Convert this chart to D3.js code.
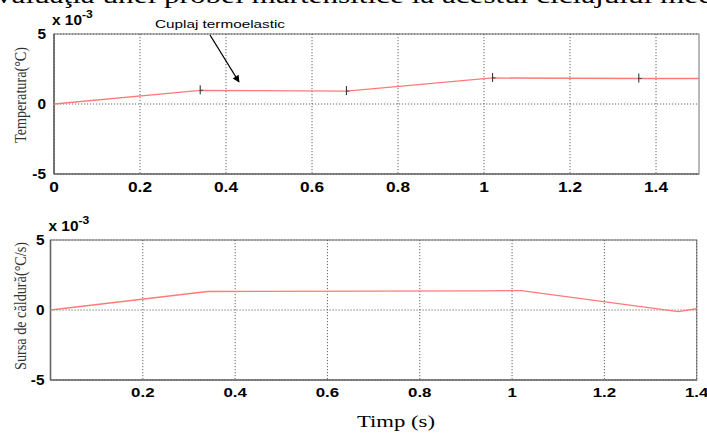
<!DOCTYPE html>
<html><head><meta charset="utf-8">
<script src="https://cdn.jsdelivr.net/npm/d3@7"></script>
<style>
html,body{margin:0;padding:0;background:#fff;overflow:hidden}
svg{display:block}
</style></head>
<body>
<svg id="c" width="707" height="434"></svg>
<script>
// ---- data ----
const topTime   = [0, 0.34, 0.68, 1.02, 1.36, 1.5];
const topTemp   = [0, 0.98, 0.92, 1.86, 1.82, 1.82];      // x 10^-3 °C
const markerTime = [0.34, 0.68, 1.02, 1.36];
const botTime   = [0, 0.34, 0.94, 1.02, 1.36, 1.4];
const botHeat   = [0, 1.32, 1.36, 1.39, -0.12, 0.09];     // x 10^-3 °C/s
const yTicks    = [-5, 0, 5];
const topXTicks = [0, 0.2, 0.4, 0.6, 0.8, 1, 1.2, 1.4];
const botXTicks = [0.2, 0.4, 0.6, 0.8, 1, 1.2, 1.4];
const gridTop   = [0, 0.2, 0.4, 0.6, 0.8, 1, 1.2, 1.4];
const gridBot   = [0.2, 0.4, 0.6, 0.8, 1, 1.2, 1.4];

const svg = d3.select("#c");
const lineColor = "#ff7a7a";
const gridColor = "#555";
const boldFont = "'Liberation Sans', Arial, sans-serif";
const serif = "'Liberation Serif', 'Times New Roman', serif";

// clipped header text from document
svg.append("text").attr("x", -4).attr("y", 3)
  .attr("font-family", serif).attr("font-size", 24)
  .attr("textLength", 716).attr("lengthAdjust", "spacingAndGlyphs")
  .text("valuaţia unei probei martensitice la acestui ciclajului mec");

function panel(opt) {
  const x = d3.scaleLinear().domain(opt.xDomain).range([opt.left, opt.right]);
  const y = d3.scaleLinear().domain([-5, 5]).range([opt.bottom, opt.top]);
  const g = svg.append("g");

  // frame
  g.append("rect").attr("x", opt.left).attr("y", opt.top)
    .attr("width", opt.right - opt.left).attr("height", opt.bottom - opt.top)
    .attr("fill", "none").attr("stroke", "#8a8a8a").attr("stroke-width", 1.2);
  g.append("line").attr("x1", opt.left).attr("x2", opt.left).attr("y1", opt.top).attr("y2", opt.bottom)
    .attr("stroke", "#666").attr("stroke-width", 1.5);
  g.append("line").attr("x1", opt.left).attr("x2", opt.right).attr("y1", opt.bottom).attr("y2", opt.bottom)
    .attr("stroke", "#777").attr("stroke-width", 1.5);

  // grid
  g.selectAll(".vg").data(opt.grid).join("line")
    .attr("x1", d => x(d)).attr("x2", d => x(d)).attr("y1", opt.top).attr("y2", opt.bottom)
    .attr("stroke", gridColor).attr("stroke-width", 0.9).attr("stroke-dasharray", "1.2,1.8");
  g.selectAll(".hg").data(yTicks).join("line")
    .attr("x1", opt.left).attr("x2", opt.right).attr("y1", d => y(d)).attr("y2", d => y(d))
    .attr("stroke", gridColor).attr("stroke-width", 0.9).attr("stroke-dasharray", "1.2,1.8");

  // y tick labels
  g.selectAll(".yl").data(yTicks).join("text")
    .attr("transform", d => `translate(${opt.left - opt.yLabGap},${y(d) + 5}) scale(1.1,1)`)
    .attr("text-anchor", "end").attr("font-family", boldFont).attr("font-weight", "bold")
    .attr("font-size", 14).text(d => d === -5 ? "-5" : d);

  // x tick labels
  g.selectAll(".xl").data(opt.xTicks).join("text")
    .attr("transform", d => `translate(${x(d)},${opt.xLabY}) scale(${opt.xLabScale},1)`)
    .attr("text-anchor", "middle").attr("font-family", boldFont).attr("font-weight", "bold")
    .attr("font-size", opt.xLabSize).text(d => d);

  // exponent label
  const ex = g.append("text").attr("transform", `translate(${opt.left - 2},${opt.top - 9}) scale(1.1,1)`)
    .attr("font-family", boldFont).attr("font-weight", "bold").attr("font-size", 14);
  ex.append("tspan").text("x 10");
  ex.append("tspan").attr("dy", -7).attr("font-size", 11).text("-3");

  // y title
  g.append("text").attr("transform", `translate(${opt.titleX},${(opt.top + opt.bottom) / 2 + opt.titleDy}) rotate(-90)`)
    .attr("text-anchor", "middle").attr("font-family", serif).attr("font-size", 16)
    .attr("fill", "#333")
    .attr("textLength", opt.titleLen).attr("lengthAdjust", "spacingAndGlyphs")
    .text(opt.title);

  // data line
  g.append("path").datum(opt.t.map((t, i) => [t, opt.v[i]]))
    .attr("d", d3.line().x(d => x(d[0])).y(d => y(d[1])))
    .attr("fill", "none").attr("stroke", lineColor).attr("stroke-width", 1.3);

  return {x, y, g};
}

const p1 = panel({
  xDomain: [0, 1.5], left: 54, right: 699, top: 34, bottom: 174,
  grid: gridTop, xTicks: topXTicks, xLabY: 192, xLabScale: 1.15, xLabSize: 15, yLabGap: 8,
  t: topTime, v: topTemp, title: "Temperatura(°C)", titleX: 26, titleLen: 96, titleDy: -9
});

// markers on the top curve
const interp = t => {
  for (let i = 0; i < topTime.length - 1; i++) {
    if (t >= topTime[i] && t <= topTime[i + 1]) {
      const f = (t - topTime[i]) / (topTime[i + 1] - topTime[i]);
      return topTemp[i] + f * (topTemp[i + 1] - topTemp[i]);
    }
  }
  return topTemp[topTemp.length - 1];
};
p1.g.selectAll(".mk").data(markerTime).join("line")
  .attr("x1", d => p1.x(d)).attr("x2", d => p1.x(d))
  .attr("y1", d => p1.y(interp(d)) - 5).attr("y2", d => p1.y(interp(d)) + 4)
  .attr("stroke", "#222").attr("stroke-width", 1);
p1.g.selectAll(".mk2").data(markerTime).join("line")
  .attr("x1", d => p1.x(d)).attr("x2", d => p1.x(d) + 3)
  .attr("y1", d => p1.y(interp(d))).attr("y2", d => p1.y(interp(d)))
  .attr("stroke", "#444").attr("stroke-width", 1);

// annotation
svg.append("defs").append("marker").attr("id", "arr").attr("viewBox", "0 0 10 10")
  .attr("refX", 9).attr("refY", 5).attr("markerWidth", 9).attr("markerHeight", 7)
  .attr("orient", "auto").attr("markerUnits", "userSpaceOnUse")
  .append("path").attr("d", "M0,0 L10,5 L0,10 z").attr("fill", "#000");
svg.append("text").attr("x", 155).attr("y", 28)
  .attr("font-family", boldFont).attr("font-size", 11.5)
  .attr("textLength", 130).attr("lengthAdjust", "spacingAndGlyphs")
  .text("Cuplaj termoelastic");
svg.append("line").attr("x1", 210).attr("y1", 35).attr("x2", 239).attr("y2", 82)
  .attr("stroke", "#000").attr("stroke-width", 1.3).attr("marker-end", "url(#arr)");

panel({
  xDomain: [0, 1.4], left: 50.5, right: 696.7, top: 240, bottom: 380,
  grid: gridBot, xTicks: botXTicks, xLabY: 397, xLabScale: 1.3, xLabSize: 13, yLabGap: 6,
  t: botTime, v: botHeat, title: "Sursa de căldură(°C/s)", titleX: 26, titleLen: 128, titleDy: -4
});

// x title
svg.append("text").attr("x", 396).attr("y", 427).attr("text-anchor", "middle")
  .attr("font-family", serif).attr("font-size", 16)
  .attr("textLength", 78).attr("lengthAdjust", "spacingAndGlyphs")
  .text("Timp (s)");
</script>
</body></html>
